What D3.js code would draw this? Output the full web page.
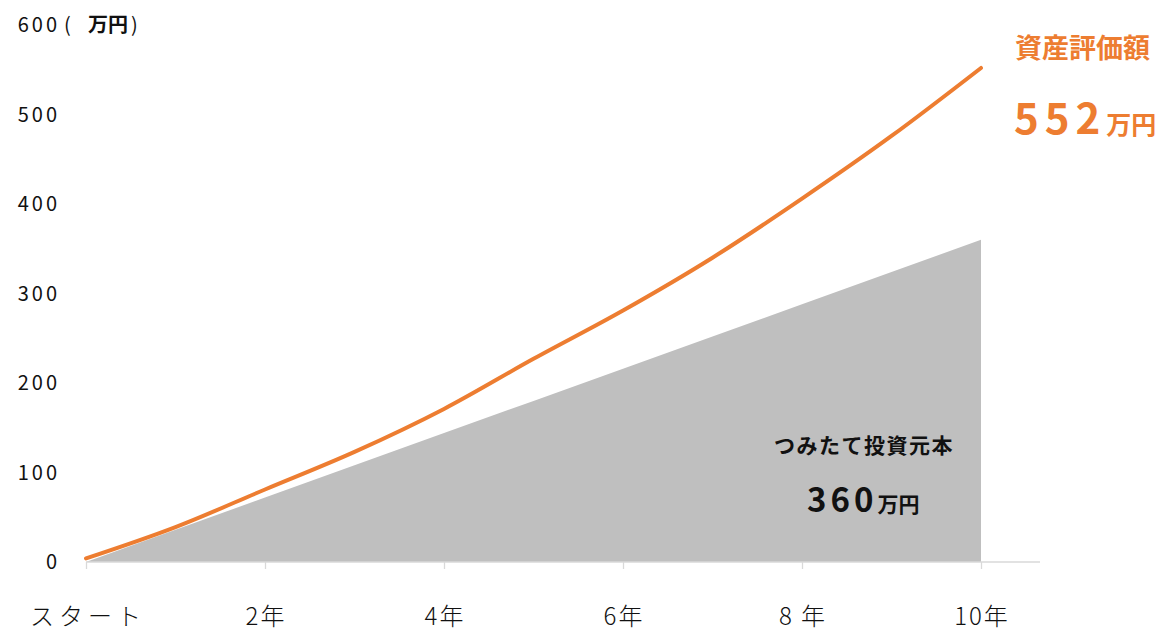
<!DOCTYPE html>
<html>
<head>
<meta charset="utf-8">
<script src="https://cdn.jsdelivr.net/npm/d3@7"></script>
<style>
  html, body { margin: 0; padding: 0; background: #ffffff; }
  svg { display: block; }
  text { font-family: "Noto Sans CJK JP", "Noto Sans", sans-serif; }
</style>
</head>
<body>
<svg id="chart" width="1165" height="632"></svg>
<script>
// Years since the start of the plan
const years = [0, 1, 2, 3, 4, 5, 6, 7, 8, 9, 10];
// Accumulated contributions (万円)
const principal = [0, 36, 72, 108, 144, 180, 216, 252, 288, 324, 360];
// Portfolio value (万円)
const assetValue = [4, 39, 81, 123, 171, 227, 281, 340, 406, 476, 552];

const yTicks = [0, 100, 200, 300, 400, 500, 600];
const xTickYears = [0, 2, 4, 6, 8, 10];
const xTickLabels = ["スタート", "2年", "4年", "6年", "8 年", "10年"];

const svg = d3.select("#chart");

const x = d3.scaleLinear().domain([0, 10]).range([86, 981]);
const y = d3.scaleLinear().domain([0, 600]).range([562, 25]);

const rows = years.map((t, i) => ({ t, p: principal[i], v: assetValue[i] }));

// Contribution area
svg.append("path")
  .datum(rows)
  .attr("fill", "#bfbfbf")
  .attr("d", d3.area()
    .x(d => x(d.t))
    .y0(y(0))
    .y1(d => y(d.p)));

// Horizontal axis line with ticks
const xAxis = d3.axisBottom(x)
  .tickValues(xTickYears)
  .tickSize(7)
  .tickFormat("");
const gx = svg.append("g")
  .attr("transform", `translate(0,${y(0)})`)
  .call(xAxis);
gx.select(".domain").remove();
gx.selectAll(".tick line").attr("stroke", "#d9d9d9").attr("stroke-width", 1.3);
svg.append("line")
  .attr("x1", x(0)).attr("x2", 1040)
  .attr("y1", y(0)).attr("y2", y(0))
  .attr("stroke", "#d9d9d9").attr("stroke-width", 1.5);

// Portfolio value line
svg.append("path")
  .datum(rows)
  .attr("fill", "none")
  .attr("stroke", "#ed7d31")
  .attr("stroke-width", 4)
  .attr("stroke-linecap", "round")
  .attr("d", d3.line()
    .curve(d3.curveMonotoneX)
    .x(d => x(d.t))
    .y(d => y(d.v)));

// Vertical tick labels
svg.append("g").selectAll("text")
  .data(yTicks)
  .join("text")
  .attr("x", 60)
  .attr("y", d => y(d))
  .attr("dy", "0.36em")
  .attr("text-anchor", "end")
  .attr("font-size", 20)
  .attr("letter-spacing", 3)
  .attr("fill", "#111")
  .text(d => d);

// Unit next to the top tick
svg.append("text")
  .attr("x", 64).attr("y", y(600)).attr("dy", "0.36em")
  .attr("font-size", 20).attr("fill", "#111")
  .text("(");
svg.append("text")
  .attr("x", 88).attr("y", y(600)).attr("dy", "0.36em")
  .attr("font-size", 20).attr("font-weight", 700).attr("fill", "#111")
  .text("万円");
svg.append("text")
  .attr("x", 131).attr("y", y(600)).attr("dy", "0.36em")
  .attr("font-size", 20).attr("fill", "#111")
  .text(")");

// Horizontal tick labels
svg.append("g").selectAll("text")
  .data(xTickYears)
  .join("text")
  .attr("x", (d, i) => x(d) + (i === 0 ? 2 : 1))
  .attr("y", 616)
  .attr("dy", "0.36em")
  .attr("text-anchor", "middle")
  .attr("font-size", 24)
  .attr("font-weight", 300)
  .attr("fill", "#111")
  .attr("letter-spacing", (d, i) => i === 0 ? 5 : 2)
  .text((d, i) => xTickLabels[i]);

// Portfolio value annotation
const last = rows[rows.length - 1];
svg.append("text")
  .attr("x", 1015).attr("y", 48).attr("dy", "0.36em")
  .attr("font-size", 27).attr("font-weight", 700).attr("fill", "#ed7d31")
  .text("資産評価額");
const valueLabel = svg.append("text")
  .attr("x", 1014).attr("y", 134)
  .attr("font-weight", 700).attr("fill", "#ed7d31");
valueLabel.append("tspan")
  .attr("font-size", 42).attr("letter-spacing", 6)
  .text(last.v);
valueLabel.append("tspan")
  .attr("font-size", 25)
  .text("万円");

// Contribution annotation
svg.append("text")
  .attr("x", 864).attr("y", 445).attr("dy", "0.36em")
  .attr("text-anchor", "middle")
  .attr("font-size", 21).attr("font-weight", 700).attr("fill", "#111")
  .attr("letter-spacing", 1.5)
  .text("つみたて投資元本");
const principalLabel = svg.append("text")
  .attr("x", 807).attr("y", 512)
  .attr("font-weight", 700).attr("fill", "#111");
principalLabel.append("tspan")
  .attr("font-size", 33).attr("letter-spacing", 4)
  .text(last.p);
principalLabel.append("tspan")
  .attr("font-size", 21)
  .text("万円");
</script>
</body>
</html>
